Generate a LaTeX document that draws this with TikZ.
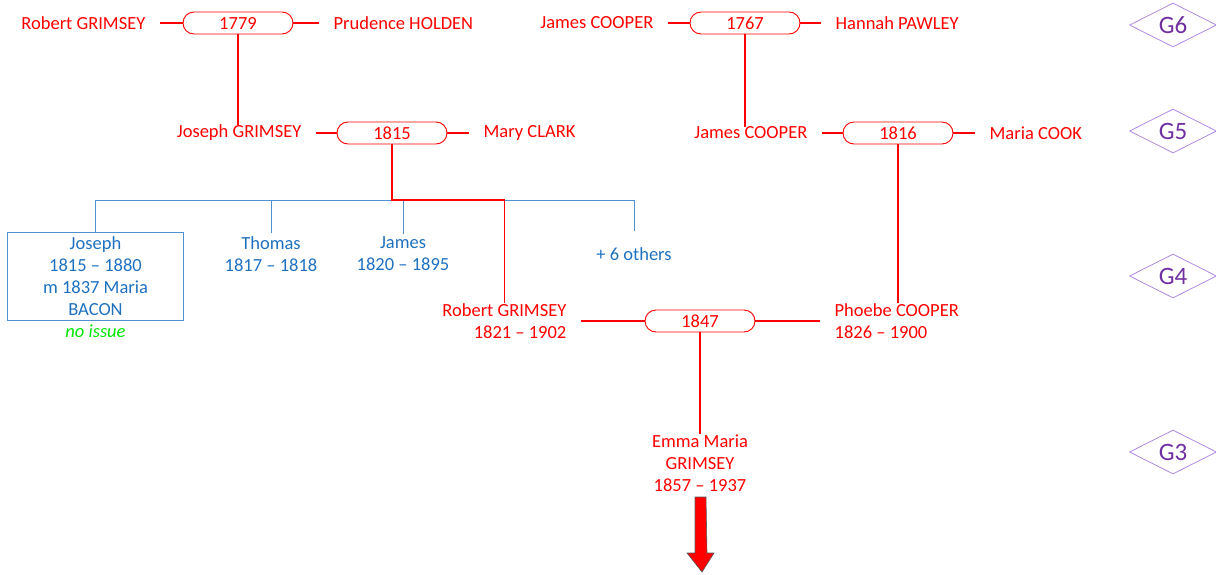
\documentclass[tikz,border=0pt]{standalone}
\usepackage{fontspec}
\setmainfont{Carlito}
\usepackage{tikz}
\usetikzlibrary{positioning, shapes.geometric, calc}
\definecolor{kinred}{RGB}{255,0,0}
\definecolor{sibblue}{RGB}{31,113,191}
\definecolor{boxblue}{RGB}{79,145,208}
\definecolor{nogreen}{RGB}{0,230,0}
\definecolor{genpurple}{RGB}{112,48,160}
\definecolor{genline}{RGB}{176,140,224}
\newcommand{\treefont}{\fontsize{18.5}{22}\selectfont}

\begin{document}
\begin{tikzpicture}[
  x=1pt, y=-1pt,
  person/.style={text=kinred, inner sep=0pt, font=\treefont},
  wed/.style={draw=kinred, line width=0.9pt, rounded corners=11pt, minimum width=110pt, minimum height=22pt, inner sep=0pt, text=kinred, font=\treefont},
  sib/.style={text=sibblue, align=center, inner sep=3pt, font=\treefont},
  gen/.style={diamond, draw=genline, line width=0.8pt, aspect=2, minimum width=87pt, minimum height=44pt, inner sep=0pt, text=genpurple, font=\fontsize{25}{30}\selectfont},
  kin/.style={draw=kinred, line width=1.5pt},
  spouse/.style={kin, shorten >=14pt},
  sibline/.style={draw=boxblue, line width=0.9pt},
  onward/.style={fill=kinred, draw=black!65, line width=0.6pt},
  node distance=36pt
]
\useasboundingbox (0,0) rectangle (1216,574);

\node[wed] (m1779) at (238,23) {1779};
\node[person, left=37pt of m1779] (rgO) {Robert GRIMSEY};
\node[person, right=40pt of m1779] (ph) {Prudence HOLDEN};
\node[wed] (m1767) at (745,23) {1767};
\node[person, left=36pt of m1767] (jcO) {James COOPER};
\node[person, right=35pt of m1767] (hp) {Hannah PAWLEY};

\node[wed] (m1815) at (392,133) {1815};
\node[person, left=35pt of m1815] (jg) {Joseph GRIMSEY};
\node[person, right=36pt of m1815] (mc) {Mary CLARK};
\node[wed] (m1816) at (898,133) {1816};
\node[person, left=35pt of m1816] (jc) {James COOPER};
\node[person, right=36pt of m1816] (mk) {Maria COOK};

\node[sib, draw=boxblue, line width=0.9pt, minimum width=176pt, minimum height=88pt] (jo) at (95.5,276) {Joseph\\1815 – 1880\\m 1837 Maria\\BACON};
\node[text=nogreen, inner sep=0pt, font=\treefont\itshape] (ni) at (95.5,331) {no issue};
\node[sib] (th) at (271,254) {Thomas\\1817 – 1818};
\node[sib] (ja) at (403,254) {James\\1820 – 1895};
\node[sib, minimum height=46pt] (ot) at (634,254) {+ 6 others};

\node[wed] (m1847) at (700,321) {1847};
\node[person, align=right, left=78pt of m1847] (rg) {Robert GRIMSEY\\1821 – 1902};
\node[person, align=left, right=79pt of m1847] (pc) {Phoebe COOPER\\1826 – 1900};
\node[person, align=center] (em) at (700,463) {Emma Maria\\GRIMSEY\\1857 – 1937};

\node[gen] (g6) at (1173,25) {G6};
\node[gen] (g5) at (1173,131) {G5};
\node[gen] (g4) at (1173,276) {G4};
\node[gen] (g3) at (1173,452) {G3};

\draw[spouse] (m1779.west) -- (rgO.east);
\draw[spouse] (m1779.east) -- (ph.west);
\draw[spouse] (m1767.west) -- (jcO.east);
\draw[spouse] (m1767.east) -- (hp.west);
\draw[spouse] (m1815.west) -- (jg.east);
\draw[spouse] (m1815.east) -- (mc.west);
\draw[spouse] (m1816.west) -- (jc.east);
\draw[spouse] (m1816.east) -- (mk.west);
\draw[spouse] (m1847.west) -- (rg.east);
\draw[spouse] (m1847.east) -- (pc.west);

\draw[kin] (m1779.south) -- (m1779.south |- jg.north);
\draw[kin] (m1767.south) -- (m1767.south |- jc.north);
\draw[kin] (m1816.south) -- (m1816.south |- pc.north);
\draw[kin] (m1847.south) -- (em.north);

\coordinate (sibbar) at (0,200);
\draw[sibline] (jo.north) |- (ot.north |- sibbar) -- (ot.north);
\draw[sibline] (th.north) -- (th.north |- sibbar);
\draw[sibline] (ja.north) -- (ja.north |- sibbar);
\draw[kin] (m1815.south) |- (rg.north |- sibbar) -- (rg.north);

\filldraw[onward] (695,497) -- (706,497) -- (707,553) -- (714,553) -- (702,572) -- (687,553) -- (695,553) -- cycle;
\end{tikzpicture}
\end{document}
